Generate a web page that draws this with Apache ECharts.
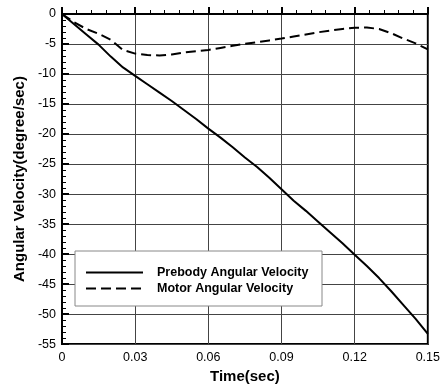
<!DOCTYPE html>
<html><head><meta charset="utf-8">
<script src="https://cdn.jsdelivr.net/npm/echarts@6/dist/echarts.min.js"></script>
<style>html,body{margin:0;padding:0;background:#fff}#c{width:443px;height:389px}</style>
</head><body><div id="c"></div>
<script>
var timeValues = [0,0.005,0.01,0.015,0.02,0.025,0.03,0.035,0.04,0.045,0.05,0.055,0.06,0.065,0.07,0.075,0.08,0.085,0.09,0.095,0.1,0.105,0.11,0.115,0.12,0.125,0.13,0.135,0.14,0.145,0.15];
var prebodyValues = [0,-1.7,-3.4,-5.1,-7.1,-8.9,-10.3,-11.7,-13.1,-14.5,-16.0,-17.5,-19.1,-20.6,-22.2,-23.9,-25.5,-27.3,-29.2,-31.1,-32.8,-34.6,-36.4,-38.2,-40.1,-42.0,-44.0,-46.2,-48.5,-50.8,-53.3];
var motorValues = [0,-1.4,-2.5,-3.3,-4.3,-6.0,-6.6,-6.85,-6.9,-6.75,-6.4,-6.2,-6.0,-5.65,-5.3,-4.95,-4.7,-4.4,-4.1,-3.75,-3.4,-3.05,-2.75,-2.5,-2.3,-2.25,-2.5,-3.2,-4.1,-4.9,-5.9];
var seriesNames = ['Prebody Angular Velocity','Motor Angular Velocity'];
var xTicks = {min:0, max:0.15, interval:0.03};
var yTicks = {min:-55, max:0, interval:5};
var xTitle = 'Time(sec)';
var yTitle = 'Angular Velocity(degree/sec)';

function pairs(xs, ys){ return xs.map(function(x,i){ return [x, ys[i]]; }); }

var chart = echarts.init(document.getElementById('c'), null, {renderer:'canvas'});
var labelFont = {color:'#000', fontFamily:'Arial, Liberation Sans, sans-serif', fontSize:12.5};
chart.setOption({
  animation:false,
  backgroundColor:'#fff',
  grid:{left:62, right:12, top:14, bottom:35.5, show:true, borderColor:'#000', borderWidth:2, backgroundColor:'transparent'},
  xAxis:{
    type:'value', min:xTicks.min, max:xTicks.max, interval:xTicks.interval,
    name:xTitle, nameLocation:'middle', nameGap:19,
    nameTextStyle:{color:'#000', fontFamily:'Arial, Liberation Sans, sans-serif', fontSize:15, fontWeight:'bold'},
    axisLine:{show:true, lineStyle:{color:'#000', width:2}},
    axisTick:{show:true, inside:true, length:7, lineStyle:{color:'#000', width:2}},
    minorTick:{show:true, splitNumber:5, length:4, lineStyle:{color:'#000', width:1}},
    splitLine:{show:true, lineStyle:{color:'#444', width:1}},
    axisLabel:Object.assign({margin:7, formatter:function(v){ return v===0?'0':String(+v.toFixed(2)); }}, labelFont)
  },
  yAxis:{
    type:'value', min:yTicks.min, max:yTicks.max, interval:yTicks.interval,
    name:yTitle, nameLocation:'middle', nameGap:31, nameRotate:90,
    nameTextStyle:{color:'#000', fontFamily:'Arial, Liberation Sans, sans-serif', fontSize:15, fontWeight:'bold'},
    axisLine:{show:true, lineStyle:{color:'#000', width:2}},
    axisTick:{show:true, inside:true, length:7, lineStyle:{color:'#000', width:2}},
    minorTick:{show:true, splitNumber:5, length:4, lineStyle:{color:'#000', width:1}},
    splitLine:{show:true, lineStyle:{color:'#444', width:1}},
    axisLabel:Object.assign({margin:6}, labelFont)
  },
  graphic:[{type:'rect', z:10, shape:{x:75, y:251, width:247, height:55}, style:{fill:'#fff', stroke:'#888', lineWidth:1}}],
  legend:{
    z:20, left:85, top:266, orient:'vertical', padding:0, itemGap:3, itemWidth:57, itemHeight:14,
    data:seriesNames,
    itemStyle:{color:'rgba(0,0,0,0)', borderWidth:0, opacity:0},
    textStyle:{color:'#000', fontFamily:'Arial, Liberation Sans, sans-serif', fontSize:12.5, fontWeight:'bold', padding:[0,0,0,9]}
  },
  series:[
    {name:seriesNames[0], type:'line', symbol:'none', smooth:false, data:pairs(timeValues, prebodyValues), lineStyle:{color:'#000', width:2, type:'solid'}, itemStyle:{color:'#000'}},
    {name:seriesNames[1], type:'line', symbol:'none', smooth:false, data:pairs(timeValues, motorValues), lineStyle:{color:'#000', width:2, type:[10,5]}, itemStyle:{color:'#000'}}
  ]
});
</script></body></html>
